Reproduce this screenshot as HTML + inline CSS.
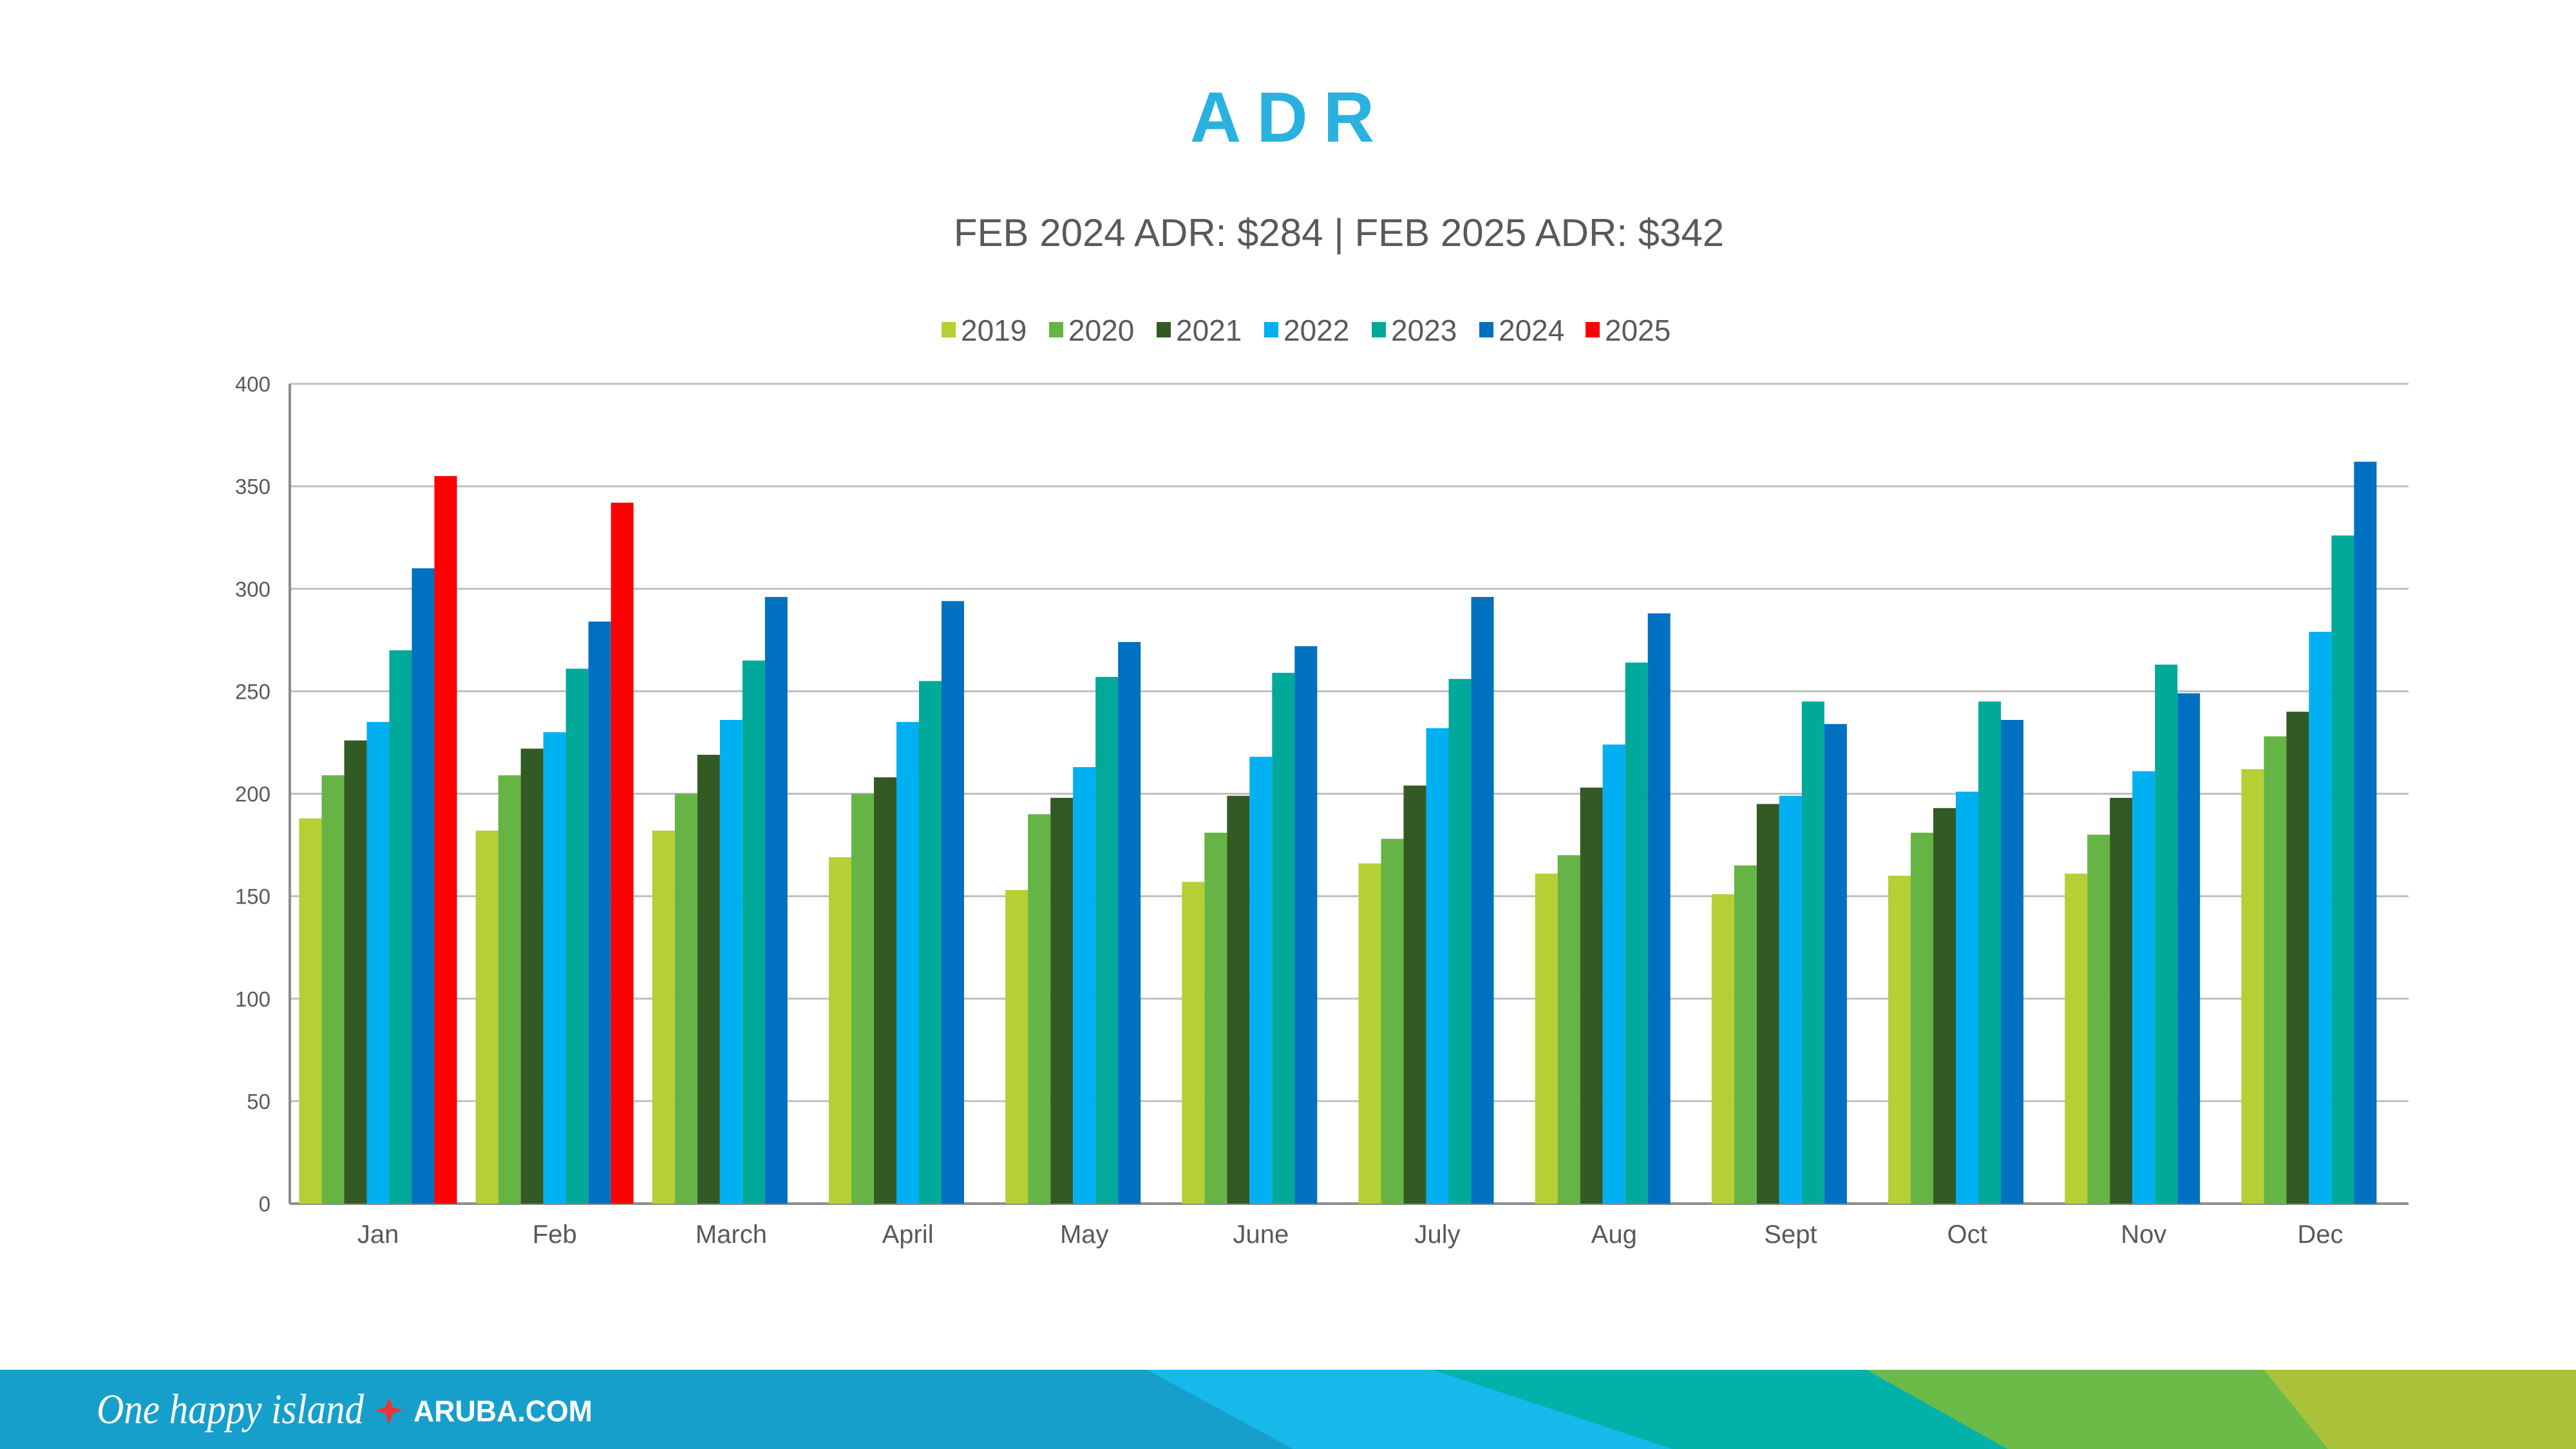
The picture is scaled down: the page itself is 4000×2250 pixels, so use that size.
<!DOCTYPE html>
<html><head><meta charset="utf-8"><style>
html,body{margin:0;padding:0;background:#fff;}
body{width:4000px;height:2250px;overflow:hidden;position:relative;font-family:"Liberation Sans",Arial,sans-serif;}
</style></head><body>
<svg width="4000" height="2250" viewBox="0 0 4000 2250" xmlns="http://www.w3.org/2000/svg" style="position:absolute;left:0;top:0">
<text x="2003" y="220" text-anchor="middle" font-family="Liberation Sans" font-weight="bold" font-size="110" fill="#29B2E0" letter-spacing="24">ADR</text>
<text x="2079" y="382" text-anchor="middle" font-family="Liberation Sans" font-size="60" fill="#595959">FEB 2024 ADR: $284 | FEB 2025 ADR: $342</text>
<g id="legend" font-family="Liberation Sans" font-size="46" fill="#595959"></g>
<g id="grid"></g>
<g id="bars"></g>
<g id="labels" font-family="Liberation Sans" fill="#595959"></g>
<rect x="0" y="2127" width="4000" height="123" fill="#179FCB"/>
<polygon points="1781,2127 2225,2127 2597,2250 2008,2250" fill="#16B9EA"/>
<polygon points="2225,2127 2898,2127 3117,2250 2597,2250" fill="#00B2A9"/>
<polygon points="2898,2127 3515,2127 3615,2250 3117,2250" fill="#6ABB47"/>
<polygon points="3515,2127 4000,2127 4000,2250 3615,2250" fill="#A9C23A"/>
<text x="150" y="2210" font-family="Liberation Serif" font-style="italic" font-size="66" fill="#fff" textLength="415" lengthAdjust="spacingAndGlyphs">One happy island</text>
<path d="M604 2170 L610 2185 L626 2190 L610 2195 L604 2212 L598 2195 L582 2190 L598 2185Z" fill="#E5373A"/>
<text x="642" y="2207" font-family="Liberation Sans" font-weight="bold" font-size="46" fill="#fff" textLength="278" lengthAdjust="spacingAndGlyphs">ARUBA.COM</text>
</svg>
<script>
const NS="http://www.w3.org/2000/svg";
function el(p,t,a,txt){const e=document.createElementNS(NS,t);for(const k in a)e.setAttribute(k,a[k]);if(txt!==undefined)e.textContent=txt;document.getElementById(p).appendChild(e);}
const colors=["#B5CF35","#66B445","#335A24","#00B0F0","#00A99A","#0070C0","#FF0000"];
const years=["2019","2020","2021","2022","2023","2024","2025"];
const lx=[1462,1629,1796,1963,2130,2297,2462];
years.forEach((y,i)=>{el("legend","rect",{x:lx[i],y:500,width:22,height:24,fill:colors[i]});el("legend","text",{x:lx[i]+30,y:529},y);});
const x0=450,x1=3740,y0=1869,s=3.1825;
for(let v=0;v<=400;v+=50){const y=y0-v*s;
 if(v>0) el("grid","line",{x1:x0,x2:x1,y1:y,y2:y,stroke:"#BFBFBF","stroke-width":3});
 el("labels","text",{x:420,y:y+12,"text-anchor":"end","font-size":33},String(v));}
el("grid","line",{x1:x0,x2:x1,y1:y0,y2:y0,stroke:"#8C8C8C","stroke-width":4});
el("grid","line",{x1:x0,x2:x0,y1:596,y2:y0,stroke:"#8C8C8C","stroke-width":4});
const data=[[188,209,226,235,270,310,355],[182,209,222,230,261,284,342],[182,200,219,236,265,296],[169,200,208,235,255,294],[153,190,198,213,257,274],[157,181,199,218,259,272],[166,178,204,232,256,296],[161,170,203,224,264,288],[151,165,195,199,245,234],[160,181,193,201,245,236],[161,180,198,211,263,249],[212,228,240,279,326,362]];
const months=["Jan","Feb","March","April","May","June","July","Aug","Sept","Oct","Nov","Dec"];
const gw=(x1-x0)/12,bw=35;
data.forEach((d,m)=>{const gs=x0+m*gw+14.5;
 d.forEach((v,i)=>{el("bars","rect",{x:gs+i*bw,y:y0-v*s,width:bw,height:v*s,fill:colors[i]});});
 el("labels","text",{x:x0+m*gw+gw/2,y:1930,"text-anchor":"middle","font-size":40},months[m]);
});
</script>
</body></html>
